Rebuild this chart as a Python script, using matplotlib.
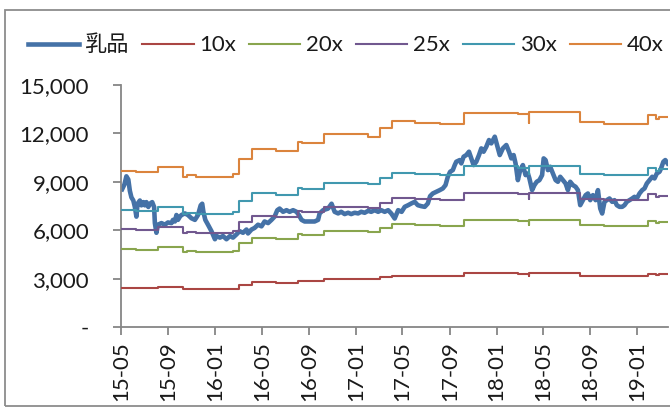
import numpy as np
import pandas as pd
import matplotlib
matplotlib.use("Agg")
import matplotlib.pyplot as plt
import matplotlib.dates as mdates
from matplotlib.ticker import FuncFormatter, MultipleLocator
from matplotlib.patches import Rectangle

plt.rcParams['font.family'] = ['Lato', 'Noto Sans CJK SC', 'DejaVu Sans']

# dairy index (乳品)
price_dates = [
    '2015-05-04', '2015-05-10', '2015-05-15', '2015-05-20', '2015-05-24', '2015-05-28',
    '2015-06-02', '2015-06-06', '2015-06-10', '2015-06-13', '2015-06-19', '2015-06-23',
    '2015-06-28', '2015-07-02', '2015-07-06', '2015-07-11', '2015-07-15', '2015-07-21',
    '2015-07-26', '2015-07-28', '2015-08-01', '2015-08-05', '2015-08-14', '2015-08-23',
    '2015-08-31', '2015-09-09', '2015-09-13', '2015-09-18', '2015-09-22', '2015-09-26',
    '2015-10-01', '2015-10-05', '2015-10-14', '2015-10-22', '2015-10-31', '2015-11-09',
    '2015-11-17', '2015-11-24', '2015-11-28', '2015-12-01', '2015-12-06', '2015-12-13',
    '2015-12-22', '2015-12-31', '2016-01-04', '2016-01-13', '2016-01-21', '2016-01-30',
    '2016-02-08', '2016-02-16', '2016-02-25', '2016-03-04', '2016-03-13', '2016-03-22',
    '2016-03-26', '2016-04-04', '2016-04-12', '2016-04-21', '2016-04-30', '2016-05-08',
    '2016-05-17', '2016-05-26', '2016-06-03', '2016-06-10', '2016-06-16', '2016-06-25',
    '2016-07-04', '2016-07-12', '2016-07-21', '2016-07-30', '2016-08-05', '2016-08-12',
    '2016-08-20', '2016-08-29', '2016-09-07', '2016-09-15', '2016-09-24', '2016-09-28',
    '2016-10-07', '2016-10-20', '2016-10-29', '2016-11-06', '2016-11-15', '2016-11-23',
    '2016-12-02', '2016-12-11', '2016-12-19', '2016-12-28', '2017-01-06', '2017-01-14',
    '2017-01-23', '2017-02-01', '2017-02-09', '2017-02-18', '2017-02-27', '2017-03-07',
    '2017-03-16', '2017-03-25', '2017-04-02', '2017-04-11', '2017-04-20', '2017-04-29',
    '2017-05-07', '2017-05-16', '2017-05-24', '2017-06-02', '2017-06-10', '2017-06-19',
    '2017-06-28', '2017-07-06', '2017-07-12', '2017-07-19', '2017-07-28', '2017-08-06',
    '2017-08-14', '2017-08-21', '2017-08-27', '2017-09-02', '2017-09-09', '2017-09-14',
    '2017-09-18', '2017-09-27', '2017-10-01', '2017-10-07', '2017-10-14', '2017-10-21',
    '2017-10-27', '2017-11-02', '2017-11-09', '2017-11-16', '2017-11-22', '2017-11-28',
    '2017-12-05', '2017-12-12', '2017-12-18', '2017-12-27', '2018-01-02', '2018-01-09',
    '2018-01-17', '2018-01-26', '2018-02-02', '2018-02-08', '2018-02-14', '2018-02-19',
    '2018-02-25', '2018-03-03', '2018-03-10', '2018-03-17', '2018-03-23', '2018-03-27',
    '2018-04-03', '2018-04-09', '2018-04-15', '2018-04-22', '2018-04-29', '2018-05-03',
    '2018-05-08', '2018-05-14', '2018-05-20', '2018-05-27', '2018-06-03', '2018-06-09',
    '2018-06-15', '2018-06-22', '2018-06-29', '2018-07-05', '2018-07-11', '2018-07-18',
    '2018-07-25', '2018-07-31', '2018-08-06', '2018-08-13', '2018-08-20', '2018-08-26',
    '2018-09-01', '2018-09-08', '2018-09-15', '2018-09-21', '2018-09-27', '2018-10-02',
    '2018-10-08', '2018-10-14', '2018-10-21', '2018-10-28', '2018-11-03', '2018-11-09',
    '2018-11-16', '2018-11-23', '2018-11-29', '2018-12-05', '2018-12-12', '2018-12-19',
    '2018-12-25', '2018-12-31', '2019-01-07', '2019-01-14', '2019-01-20', '2019-01-26',
    '2019-02-02', '2019-02-09', '2019-02-15', '2019-02-21', '2019-02-28', '2019-03-04',
    '2019-03-10', '2019-03-15', '2019-03-21',
]
price_values = [
    8540, 8840, 9340, 9140, 8440, 8040,
    7840, 7440, 6840, 7640, 7840, 7540,
    7740, 7540, 7740, 7440, 7640, 7740,
    7440, 6440, 5840, 6340, 6440, 6340,
    6480, 6440, 6640, 6540, 6940, 6640,
    6840, 6940, 7040, 6940, 6740, 6640,
    6940, 7540, 7640, 7140, 6640, 6340,
    5940, 5440, 5640, 5540, 5640, 5440,
    5640, 5540, 5740, 5940, 5840, 6040,
    5800, 6040, 6140, 6340, 6240, 6540,
    6440, 6640, 6840, 7240, 7340, 7140,
    7240, 7140, 7240, 7140, 6940, 6640,
    6540, 6540, 6540, 6540, 6640, 7040,
    7240, 7340, 7640, 7140, 7040, 7140,
    7000, 7080, 7000, 7080, 7040, 7140,
    7080, 7200, 7140, 7240, 7140, 7240,
    7140, 7240, 7040, 6724, 7241, 7138,
    7448, 7551, 7655, 7758, 7551, 7489,
    7448, 7655, 8110, 8276, 8380, 8483,
    8586, 8793, 9311, 9621, 9725, 10036,
    10243, 10346, 10139, 10553, 10657, 10864,
    10450, 10036, 10243, 10657, 11070, 10864,
    11174, 11588, 11381, 11795, 11278, 10657,
    11070, 11278, 10864, 10450, 10657, 10139,
    9104, 9725, 10036, 9415, 9518, 9208,
    8483, 8793, 9001, 9104, 9415, 10450,
    10346, 9725, 9932, 9518, 9104, 9001,
    9311, 9104, 8897, 8483, 9001, 8793,
    8690, 8483, 7551, 7862, 8172, 8276,
    7862, 8172, 7862, 8483, 7345, 7034,
    7758, 7862, 7965, 7758, 7862, 7551,
    7448, 7448, 7551, 7758, 7862, 7965,
    8069, 7965, 8276, 8483, 8586, 8897,
    9104, 9311, 9208, 9518, 9621, 9828,
    10243, 10346, 10139,
]

# earnings per share steps behind the PE bands
eps_dates = [
    '2015-05-04', '2015-06-10', '2015-08-04', '2015-10-08', '2015-10-19', '2015-11-12',
    '2016-02-16', '2016-03-02', '2016-04-05', '2016-06-06', '2016-08-03', '2016-08-13',
    '2016-10-10', '2017-02-01', '2017-03-03', '2017-04-05', '2017-06-02', '2017-08-07',
    '2017-10-09', '2018-02-26', '2018-03-26', '2018-03-27', '2018-08-06', '2018-10-08',
    '2019-01-29', '2019-02-20', '2019-02-27', '2019-03-21',
]
eps_values = [
    242, 239.5, 248, 233, 235, 233,
    237, 260, 276, 273, 287, 284.5,
    298.5, 295, 308, 319, 316.5, 314,
    332, 329.5, 316.5, 332.7, 317, 314,
    328.5, 323, 326, 326,
]
multiples = [10, 20, 25, 30, 40]
band_colors = ['#AA4643', '#89A54E', '#71588F', '#4198AF', '#DB843D']

tick_dates = pd.date_range('2015-05-01', '2019-01-01', freq='4MS')

fig = plt.figure(figsize=(6.7, 4.09), dpi=100)
ax = fig.add_axes([0.1806, 0.2005, 0.8164, 0.5917])

ax.plot(pd.to_datetime(price_dates), price_values, color='#4572A7', lw=3.3,
        label='乳品', zorder=2)
ed = pd.to_datetime(eps_dates)
for m, c in zip(multiples, band_colors):
    ax.step(ed, np.array(eps_values) * m, where='post', color=c, lw=1.5,
            label='%dx' % m, zorder=3)

ax.set_ylim(0, 15000)
ax.yaxis.set_major_locator(MultipleLocator(3000))
ax.yaxis.set_major_formatter(FuncFormatter(lambda v, p: '-' if v == 0 else '{:,.0f}'.format(v)))
ax.set_xlim(pd.Timestamp('2015-05-01'), pd.Timestamp('2019-03-22'))
ax.set_xticks(tick_dates)
ax.xaxis.set_major_formatter(mdates.DateFormatter('%y-%m'))
plt.setp(ax.get_xticklabels(), rotation=90)

for s in ['top', 'right']:
    ax.spines[s].set_visible(False)
for s in ['left', 'bottom']:
    ax.spines[s].set_color('#868686')
    ax.spines[s].set_linewidth(1.3)
ax.tick_params(axis='y', direction='out', length=6, width=1.3, color='#868686',
               labelsize=16, pad=17, labelcolor='#1a1a1a')
ax.tick_params(axis='x', direction='out', length=6, width=1.3, color='#868686',
               labelsize=16, pad=4, labelcolor='#1a1a1a')

fig.legend(loc='center', bbox_to_anchor=(0.516, 0.89), ncol=6, frameon=False,
           fontsize=16, handlelength=2.3, handletextpad=0.25, columnspacing=0.6,
           borderaxespad=0, labelcolor='#1a1a1a')

fig.patches.append(Rectangle((5 / 670, 3 / 409), 1.2, 396 / 409, transform=fig.transFigure,
                             fill=False, edgecolor='#8c8c8c', lw=1.3))

fig.savefig('out.png', dpi=100)
